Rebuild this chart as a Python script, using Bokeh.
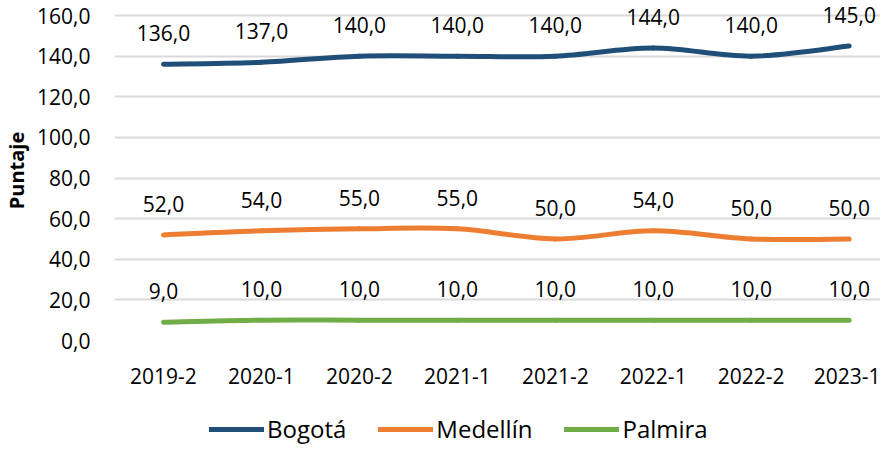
from bokeh.plotting import figure
from bokeh.layouts import column
from bokeh.models import (ColumnDataSource, Range1d, FixedTicker, Legend, LegendItem)
from bokeh.core.properties import value
from bokeh.embed import file_html
from bokeh.resources import INLINE

categories = ["2019-2", "2020-1", "2020-2", "2021-1", "2021-2", "2022-1", "2022-2", "2023-1"]
bogota = [136, 137, 140, 140, 140, 144, 140, 145]
medellin = [52, 54, 55, 55, 50, 54, 50, 50]
palmira = [9, 10, 10, 10, 10, 10, 10, 10]
series_names = ["Bogotá", "Medellín", "Palmira"]
colors = ["#1f4e79", "#ed7d31", "#70ad47"]
y_ticks = [0, 20, 40, 60, 80, 100, 120, 140, 160]

FONT = "Open Sans"

def fmt(v):
    return f"{v:.1f}".replace(".", ",")

p = figure(width=880, height=410, output_backend="svg", toolbar_location=None,
           x_range=Range1d(-0.5, 7.32), y_range=Range1d(0, 167.4),
           min_border_left=105, min_border_top=0, min_border_right=0, min_border_bottom=70)
p.outline_line_color = None
p.background_fill_color = "white"
p.border_fill_color = "white"

xs = list(range(len(categories)))
all_vals = [bogota, medellin, palmira]

for name, vals, col in zip(series_names, all_vals, colors):
    n = len(vals)
    x0, y0, x1, y1, cx0, cy0, cx1, cy1 = [], [], [], [], [], [], [], []
    for i in range(n - 1):
        xm, ym = xs[max(i - 1, 0)], vals[max(i - 1, 0)]
        xa, ya = xs[i], vals[i]
        xb, yb = xs[i + 1], vals[i + 1]
        xp, yp = xs[min(i + 2, n - 1)], vals[min(i + 2, n - 1)]
        x0.append(xa); y0.append(ya); x1.append(xb); y1.append(yb)
        cx0.append(xa + (xb - xm) / 6); cy0.append(ya + (yb - ym) / 6)
        cx1.append(xb - (xp - xa) / 6); cy1.append(yb - (yp - ya) / 6)
    src = ColumnDataSource(dict(x0=x0, y0=y0, x1=x1, y1=y1, cx0=cx0, cy0=cy0, cx1=cx1, cy1=cy1))
    p.bezier(x0="x0", y0="y0", x1="x1", y1="y1", cx0="cx0", cy0="cy0", cx1="cx1", cy1="cy1",
             source=src, line_color=col, line_width=5, line_cap="round")
    lsrc = ColumnDataSource(dict(x=xs, y=vals, t=[fmt(v) for v in vals]))
    p.text(x="x", y="y", text="t", source=lsrc, y_offset=-31, text_align="center",
           text_baseline="middle", text_font=value(FONT), text_font_size="21px", text_color="#000000")

p.xgrid.visible = False
p.ygrid.grid_line_color = "#d9d9d9"
p.ygrid.grid_line_width = 2

p.yaxis.ticker = FixedTicker(ticks=y_ticks)
p.yaxis.major_label_overrides = {t: fmt(t) for t in y_ticks}
p.xaxis.ticker = FixedTicker(ticks=xs)
p.xaxis.major_label_overrides = {i: c for i, c in zip(xs, categories)}

for ax in (p.xaxis, p.yaxis):
    ax.axis_line_color = None
    ax.major_tick_line_color = None
    ax.minor_tick_line_color = None
    ax.major_label_text_font = FONT
    ax.major_label_text_color = "#000000"

p.yaxis.major_label_text_font_size = "21px"
p.xaxis.major_label_text_font_size = "21px"
p.yaxis.major_label_standoff = 18
p.xaxis.major_label_standoff = 21
p.yaxis.axis_label = "Puntaje"
p.yaxis.axis_label_text_font = FONT
p.yaxis.axis_label_text_font_style = "bold"
p.yaxis.axis_label_text_font_size = "20px"
p.yaxis.axis_label_text_color = "#000000"
p.yaxis.axis_label_standoff = 4

# legend strip below the chart (series drawn out of view, only legend shows)
lf = figure(width=880, height=36, output_backend="svg", toolbar_location=None,
            x_range=Range1d(100, 101), y_range=Range1d(1000, 1001),
            min_border=0, min_border_left=0, min_border_right=0,
            min_border_top=0, min_border_bottom=0)
lf.outline_line_color = None
lf.axis.visible = False
lf.grid.visible = False
items = []
for name, vals, col in zip(series_names, all_vals, colors):
    r = lf.line(x=xs, y=vals, line_color=col, line_width=5, line_cap="round")
    items.append(LegendItem(label=name, renderers=[r]))
legend = Legend(items=items, orientation="horizontal", location=(95, 1),
                border_line_color=None, background_fill_alpha=0,
                glyph_width=55, glyph_height=20, label_standoff=3, spacing=32,
                padding=0, margin=0, label_text_font=FONT, label_text_font_size="24px",
                label_text_color="#000000")
lf.add_layout(legend)

layout = column(p, lf, spacing=0)
open("out.html", "w").write(file_html(layout, INLINE))
